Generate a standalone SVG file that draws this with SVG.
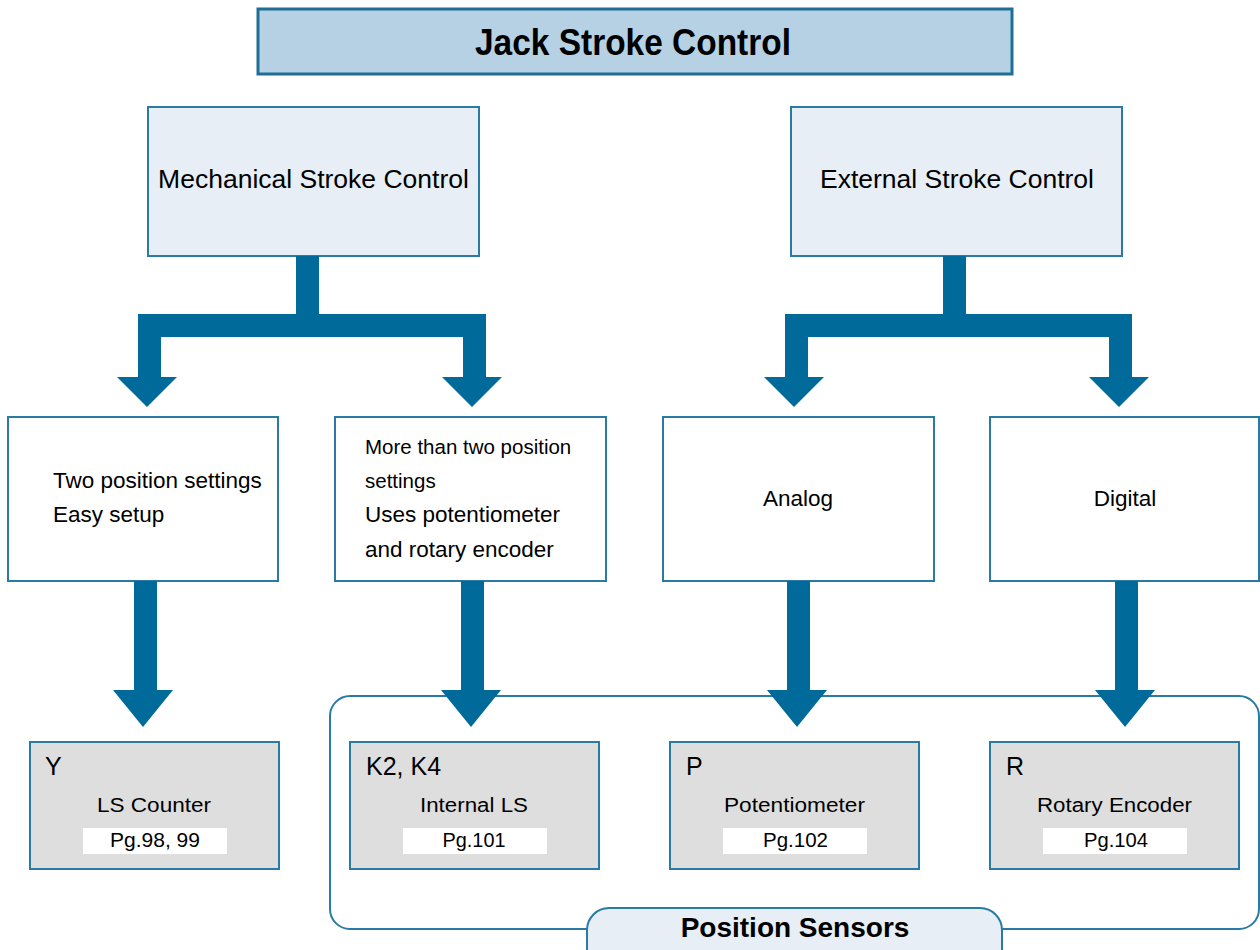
<svg xmlns="http://www.w3.org/2000/svg" width="1260" height="950" viewBox="0 0 1260 950">
<style>
text{font-family:"Liberation Sans",Arial,sans-serif;fill:#000}
.b{font-weight:bold}
.box{fill:#fff;stroke:#2a7aa6;stroke-width:2}
.lt{fill:#e7eef5;stroke:#2a7aa6;stroke-width:2}
.gr{fill:#dedede;stroke:#2a7aa6;stroke-width:2}
.lab{fill:#fff;stroke:none}
.arr{fill:#006a9a;stroke:none}
.c{text-anchor:middle}
</style>
<rect width="1260" height="950" fill="#fff"/>
<g id="sensors-group">
<rect x="330" y="696" width="929" height="233" rx="20" fill="none" stroke="#2a7aa6" stroke-width="2"/>
</g>
<g id="title">
<rect x="258" y="9" width="754" height="65" fill="#b5d1e3" stroke="#1e6e98" stroke-width="3"/>
<text x="633" y="55" class="b c" font-size="36" textLength="316" lengthAdjust="spacingAndGlyphs">Jack Stroke Control</text>
</g>
<g id="mechanical">
<rect x="148" y="107" width="331" height="149" class="lt"/>
<text x="313.5" y="188" class="c" font-size="26.5">Mechanical Stroke Control</text>
</g>
<g id="external">
<rect x="791" y="107" width="331" height="149" class="lt"/>
<text x="957" y="188" class="c" font-size="26.5">External Stroke Control</text>
</g>
<g id="two-position">
<rect x="8" y="417" width="270" height="164" class="box"/>
<text x="53" y="488" font-size="22.5">Two position settings</text>
<text x="53" y="522" font-size="22.5">Easy setup</text>
</g>
<g id="more-position">
<rect x="335" y="417" width="271" height="164" class="box"/>
<text x="365" y="454" font-size="20.5">More than two position</text>
<text x="365" y="488" font-size="20.5">settings</text>
<text x="365" y="522" font-size="22.5">Uses potentiometer</text>
<text x="365" y="557" font-size="22.5">and rotary encoder</text>
</g>
<g id="analog">
<rect x="663" y="417" width="271" height="164" class="box"/>
<text x="798" y="506" class="c" font-size="22.5">Analog</text>
</g>
<g id="digital">
<rect x="990" y="417" width="269" height="164" class="box"/>
<text x="1125" y="506" class="c" font-size="22.5">Digital</text>
</g>
<g id="ls-counter">
<rect x="30" y="742" width="249" height="127" class="gr"/>
<rect x="83" y="828" width="144" height="26" class="lab"/>
<text x="45" y="775" font-size="25">Y</text>
<text x="154" y="812" class="c" font-size="20" textLength="114" lengthAdjust="spacingAndGlyphs">LS Counter</text>
<text x="155" y="847" class="c" font-size="20" textLength="90" lengthAdjust="spacingAndGlyphs">Pg.98, 99</text>
</g>
<g id="internal-ls">
<rect x="350" y="742" width="249" height="127" class="gr"/>
<rect x="403" y="828" width="144" height="26" class="lab"/>
<text x="366" y="775" font-size="25">K2, K4</text>
<text x="474" y="812" class="c" font-size="20" textLength="108" lengthAdjust="spacingAndGlyphs">Internal LS</text>
<text x="474" y="847" class="c" font-size="20" textLength="63" lengthAdjust="spacingAndGlyphs">Pg.101</text>
</g>
<g id="potentiometer">
<rect x="670" y="742" width="249" height="127" class="gr"/>
<rect x="723" y="828" width="144" height="26" class="lab"/>
<text x="686" y="775" font-size="25">P</text>
<text x="794.5" y="812" class="c" font-size="20" textLength="141" lengthAdjust="spacingAndGlyphs">Potentiometer</text>
<text x="795.5" y="847" class="c" font-size="20" textLength="65" lengthAdjust="spacingAndGlyphs">Pg.102</text>
</g>
<g id="rotary-encoder">
<rect x="990" y="742" width="249" height="127" class="gr"/>
<rect x="1043" y="828" width="144" height="26" class="lab"/>
<text x="1006" y="775" font-size="25">R</text>
<text x="1114.5" y="812" class="c" font-size="20" textLength="155" lengthAdjust="spacingAndGlyphs">Rotary Encoder</text>
<text x="1116" y="847" class="c" font-size="20" textLength="64" lengthAdjust="spacingAndGlyphs">Pg.104</text>
</g>
<g id="connectors">
<path class="arr" d="M296,256 H319 V314 H486 V377 H502 L472,407 L442,377 H463 V337 H161 V377 H177 L147,407 L117,377 H138 V314 H296 Z"/>
<path class="arr" d="M943,256 H966 V314 H1132 V377 H1149 L1119,407 L1089,377 H1109 V337 H808 V377 H824 L794,407 L764,377 H785 V314 H943 Z"/>
<path class="arr" d="M134,581 H157 V690 H173 L143,727 L113,690 H134 Z"/>
<path class="arr" d="M461,581 H484 V690 H501 L471,727 L441,690 H461 Z"/>
<path class="arr" d="M787,581 H810 V690 H827 L797,727 L767,690 H787 Z"/>
<path class="arr" d="M1115,581 H1138 V690 H1155 L1125,727 L1095,690 H1115 Z"/>
</g>
<g id="position-sensors">
<rect x="587" y="908" width="415" height="70" rx="22" fill="#e7eef5" stroke="#2a7aa6" stroke-width="2"/>
<text x="795" y="937" class="b c" font-size="28">Position Sensors</text>
</g>
</svg>
